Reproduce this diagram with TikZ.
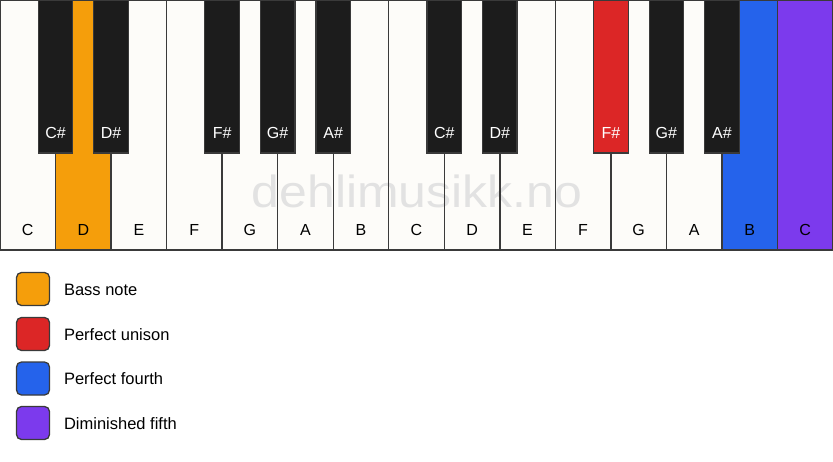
\documentclass[tikz,border=0pt]{standalone}
\usepackage{fontspec}
\setmainfont{Liberation Sans}
\definecolor{keywhite}{HTML}{FDFCF9}
\definecolor{keyblack}{HTML}{1C1C1C}
\definecolor{keyline}{HTML}{3A3A3A}
\definecolor{bassnote}{HTML}{F59E0B}
\definecolor{unison}{HTML}{DC2626}
\definecolor{fourth}{HTML}{2563EB}
\definecolor{dimfifth}{HTML}{7C3AED}
\definecolor{watermark}{HTML}{E2E2E2}
\begin{document}
\begin{tikzpicture}[x=1pt,y=-1pt,
    keylabel/.style={font=\fontsize{16}{19}\selectfont},
    blacklabel/.style={font=\fontsize{16}{19}\selectfont, text=white},
    legendbox/.style={draw=keyline, line width=1.3pt, rounded corners=5pt, minimum size=33pt, inner sep=0pt},
    legendtext/.style={anchor=west, font=\fontsize{16.5}{19}\selectfont}]
    \useasboundingbox (0,0) rectangle (833,461);

    % white keys
    \foreach \n/\c [count=\i from 0] in {C/keywhite,D/bassnote,E/keywhite,F/keywhite,G/keywhite,A/keywhite,B/keywhite,
                                          C/keywhite,D/keywhite,E/keywhite,F/keywhite,G/keywhite,A/keywhite,B/fourth,C/dimfifth}
        \fill[\c] (\i*55.533,0) rectangle ++(55.533,250);

    \node[anchor=base, text=watermark, font=\fontsize{45}{50}\selectfont] (mark) at (417,207) {\scalebox{1.11}[1]{dehlimusikk.no}};

    \foreach \n [count=\i from 0] in {C,D,E,F,G,A,B,C,D,E,F,G,A,B,C} {
        \draw[keyline, line width=1.4pt] (\i*55.533,0) rectangle ++(55.533,250);
        \node[keylabel] (w\i) at (\i*55.533+27.77,230) {\n};
    }

    % black keys
    \foreach \k/\n/\c in {1/C\#/keyblack,2/D\#/keyblack,4/F\#/keyblack,5/G\#/keyblack,6/A\#/keyblack,
                          8/C\#/keyblack,9/D\#/keyblack,11/F\#/unison,12/G\#/keyblack,13/A\#/keyblack} {
        \filldraw[fill=\c, draw=keyline, line width=1.2pt] (\k*55.533-17.25,0) rectangle ++(34.5,153);
        \node[blacklabel] (b\k) at (\k*55.533,133) {\n};
    }

    % legend
    \node[legendbox, fill=bassnote] (l1) at (33,289) {};
    \node[legendtext] (t1) at (60.5,290) {Bass note};
    \node[legendbox, fill=unison] (l2) at (33,334) {};
    \node[legendtext] (t2) at (60.5,334.5) {Perfect unison};
    \node[legendbox, fill=fourth] (l3) at (33,378.5) {};
    \node[legendtext] (t3) at (60.5,379) {Perfect fourth};
    \node[legendbox, fill=dimfifth] (l4) at (33,423) {};
    \node[legendtext] (t4) at (60.5,423.5) {Diminished fifth};
\end{tikzpicture}
\end{document}
